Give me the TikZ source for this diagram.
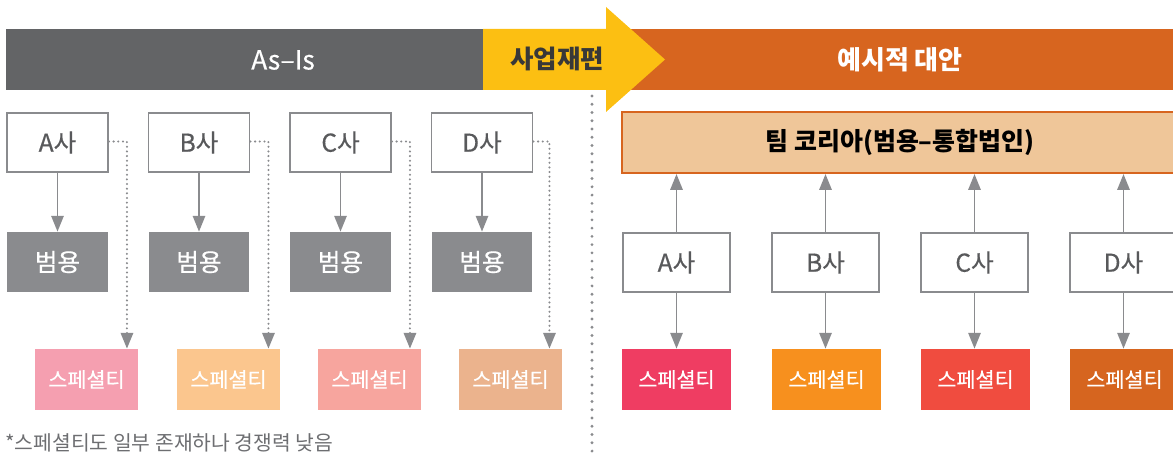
\documentclass[tikz,border=0pt]{standalone}
\usepackage{fontspec}
\setmainfont{Noto Sans CJK KR}
\newfontfamily\medfont{Noto Sans CJK KR}[FakeBold=0.5]
\usetikzlibrary{arrows.meta}
\definecolor{bgray}{HTML}{636466}
\definecolor{byellow}{HTML}{FCBF12}
\definecolor{borange}{HTML}{D7651F}
\definecolor{teamfill}{HTML}{EFC699}
\definecolor{boxgray}{HTML}{8A8B8E}
\definecolor{txtgray}{HTML}{58595B}
\definecolor{notegray}{HTML}{6D6E71}
\definecolor{sl1}{HTML}{F59FB0}
\definecolor{sl2}{HTML}{FBC68E}
\definecolor{sl3}{HTML}{F7A59E}
\definecolor{sl4}{HTML}{EBB38D}
\definecolor{sr1}{HTML}{EF3D62}
\definecolor{sr2}{HTML}{F7901E}
\definecolor{sr3}{HTML}{F04C3F}
\definecolor{sr4}{HTML}{D6651F}
\tikzset{
  cobox/.style={draw=boxgray, line width=1.1pt, fill=white, inner sep=0pt,
    minimum width=2.02cm, minimum height=1.18cm, text=txtgray, font=\medfont\fontsize{14}{16}\selectfont},
  cobox2/.style={cobox, minimum width=2.14cm},
  genbox/.style={fill=boxgray, inner sep=0pt, minimum width=2.02cm, minimum height=1.2cm,
    text=white, font=\medfont\fontsize{14}{16}\selectfont},
  specbox/.style={inner sep=0pt, minimum width=2.06cm, minimum height=1.22cm,
    text=white, font=\medfont\fontsize{11.8}{13}\selectfont},
  specbox2/.style={specbox, minimum width=2.18cm},
  arr/.style={draw=boxgray, line width=1.1pt, -{Triangle[length=9pt,width=7pt]}},
  dotarr/.style={draw=boxgray, line width=1.3pt, line cap=round, dash pattern=on 0pt off 2.65pt,
    -{Triangle[length=9pt,width=7pt]}},
  divline/.style={draw=boxgray, line width=1.8pt, line cap=round, dash pattern=on 0pt off 4.7pt},
}
\begin{document}
\begin{tikzpicture}[x=0.02cm,y=-0.02cm]
\useasboundingbox (0,0) rectangle (1173,455);
% banners
\fill[borange] (600,29) rectangle (1173,90);
\fill[bgray] (6,29) rectangle (484,90);
\fill[byellow] (483,29) -- (606,29) -- (606,7) -- (665,59.5) -- (606,112) -- (606,90) -- (483,90) -- cycle;
\node[text=white, font=\medfont\fontsize{15}{17}\selectfont] (asis) at (283,60) {As–Is};
\node[text=black!78, font=\bfseries\fontsize{14.5}{16}\selectfont] (reorg) at (557,59) {사업재편};
\node[text=white, font=\bfseries\fontsize{14.8}{16}\selectfont] (alt) at (900,60) {예시적 대안};
% divider
\coordinate (dtop) at (592,96);
\coordinate (dbot) at (592,455);
\draw[divline] (dtop) -- (dbot);
% left: companies
\node[cobox] (a1) at (57.5,142.5) {A사};
\node[cobox] (a2) at (199,142.5) {B사};
\node[cobox] (a3) at (340.5,142.5) {C사};
\node[cobox] (a4) at (482,142.5) {D사};
\node[genbox] (g1) at (57.5,262) {범용};
\node[genbox] (g2) at (199,262) {범용};
\node[genbox] (g3) at (340.5,262) {범용};
\node[genbox] (g4) at (482,262) {범용};
\node[specbox, fill=sl1] (s1) at (86.5,379.5) {스페셜티};
\node[specbox, fill=sl2] (s2) at (228.5,379.5) {스페셜티};
\node[specbox, fill=sl3] (s3) at (369.5,379.5) {스페셜티};
\node[specbox, fill=sl4] (s4) at (510.5,379.5) {스페셜티};
\foreach \i in {1,2,3,4}{
  \draw[arr] (a\i.south) -- (g\i.north);
}
\draw[dotarr] ([yshift=0.02cm]a1.east) -- ++(18,0) coordinate (t1) -- (t1 |- s1.north);
\draw[dotarr] ([yshift=0.02cm]a2.east) -- ++(18,0) coordinate (t2) -- (t2 |- s2.north);
\draw[dotarr] ([yshift=0.02cm]a3.east) -- ++(18,0) coordinate (t3) -- (t3 |- s3.north);
\draw[dotarr] ([yshift=0.02cm]a4.east) -- ++(16,0) coordinate (t4) -- (t4 |- s4.north);
\node[anchor=west, text=notegray, font=\fontsize{11.6}{13}\selectfont, inner sep=0pt] (note) at (5,443) {*스페셜티도 일부 존재하나 경쟁력 낮음};
% right
\node[draw=borange, line width=1.2pt, fill=teamfill, inner sep=0pt, minimum width=11.1cm, minimum height=1.22cm] (teambox) at (899,142.5) {};
\node[font=\bfseries\fontsize{14.2}{16}\selectfont, text=black] (team) at (900,142.5) {팀 코리아(범용–통합법인)};
\node[cobox2] (b1) at (676.5,262.5) {A사};
\node[cobox2] (b2) at (825.5,262.5) {B사};
\node[cobox2] (b3) at (974.5,262.5) {C사};
\node[cobox2] (b4) at (1123.5,262.5) {D사};
\node[specbox2, fill=sr1] (r1) at (676.5,379.5) {스페셜티};
\node[specbox2, fill=sr2] (r2) at (826.5,379.5) {스페셜티};
\node[specbox2, fill=sr3] (r3) at (975.5,379.5) {스페셜티};
\node[specbox2, fill=sr4] (r4) at (1124.5,379.5) {스페셜티};
\foreach \i in {1,2,3,4}{
  \draw[arr] (b\i.north) -- (b\i.north |- teambox.south);
  \draw[arr] (b\i.south) -- (b\i.south |- r\i.north);
}
\end{tikzpicture}
\end{document}
